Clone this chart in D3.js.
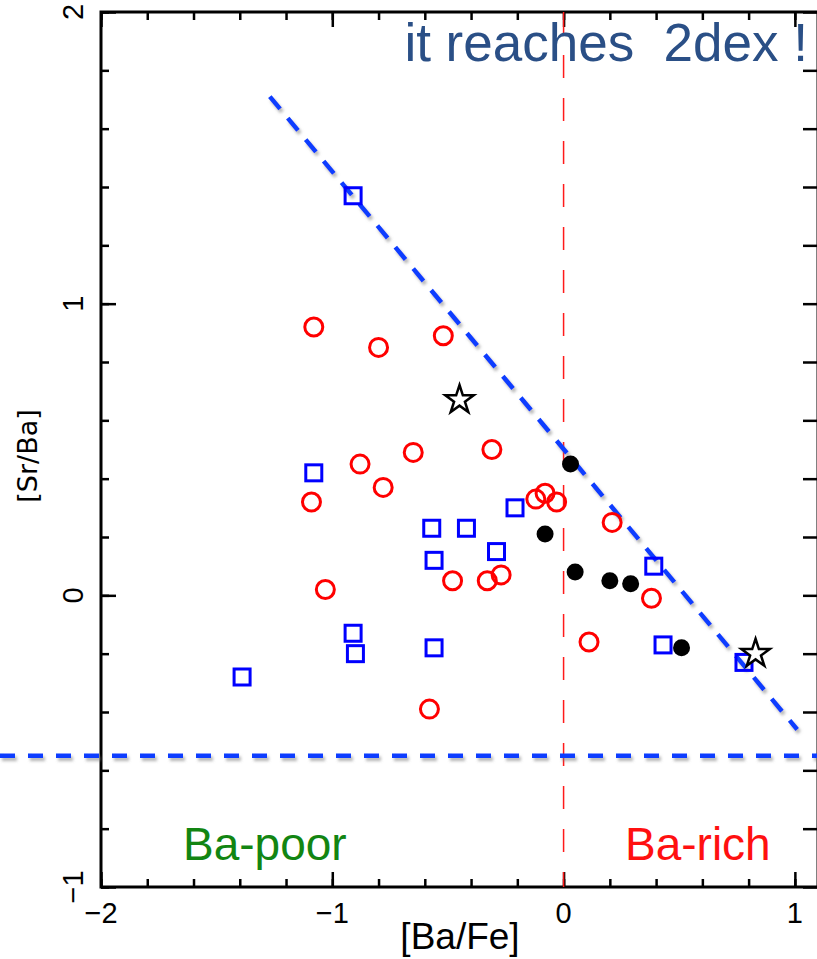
<!DOCTYPE html>
<html>
<head>
<meta charset="utf-8">
<script src="https://cdn.jsdelivr.net/npm/d3@7"></script>
<style>
  body { margin: 0; background: #fff; }
  svg { display: block; font-family: "Liberation Sans", Arial, sans-serif; }
</style>
</head>
<body>
<svg width="817" height="959"></svg>
<script>
// [Ba/Fe] , [Sr/Ba] pairs
var squares = [
  [-0.91, 1.37], [-1.08, 0.42], [-0.57, 0.23], [-0.42, 0.23], [-0.21, 0.30],
  [-0.56, 0.12], [-0.29, 0.15], [-0.91, -0.13], [-0.90, -0.20], [-0.56, -0.18],
  [-1.39, -0.28], [0.39, 0.10], [0.43, -0.17], [0.78, -0.23]
];
var openCircles = [
  [-1.08, 0.92], [-0.80, 0.85], [-0.52, 0.89], [-0.88, 0.45], [-0.65, 0.49],
  [-0.78, 0.37], [-0.31, 0.50], [-1.09, 0.32], [-0.12, 0.33], [-0.08, 0.35],
  [-0.03, 0.32], [0.21, 0.25], [-1.03, 0.02], [-0.48, 0.05], [-0.33, 0.05],
  [-0.27, 0.07], [0.38, -0.01], [0.11, -0.16], [-0.58, -0.39]
];
var filledDots = [
  [0.03, 0.45], [-0.08, 0.21], [0.05, 0.08], [0.20, 0.05], [0.29, 0.04], [0.51, -0.18]
];
var stars = [[-0.45, 0.67], [0.83, -0.20]];

var upperLimit = [[-1.27, 1.71], [1.01, -0.46]];
var lowerLimitY = -0.55;

var xMajor = [-2, -1, 0, 1];
var yMajor = [-1, 0, 1, 2];
var xMinor = d3.range(-2, 1.01, 0.2);
var yMinor = d3.range(-1, 2.01, 0.2);

var svg = d3.select("svg");
var W = +svg.attr("width");
var H = +svg.attr("height");

var x = d3.scaleLinear().domain([-2, 1.1]).range([101, 818]);
var y = d3.scaleLinear().domain([-1, 2]).range([887, 12]);
var fmt = d3.format("d");

// soft shadow under the dashed blue lines (user space so a flat line still works)
var defs = svg.append("defs");
var f = defs.append("filter").attr("id", "shadow")
  .attr("filterUnits", "userSpaceOnUse")
  .attr("x", 0).attr("y", 0).attr("width", W).attr("height", H);
f.append("feDropShadow").attr("dx", 2).attr("dy", 3).attr("stdDeviation", 1.8)
  .attr("flood-color", "#777").attr("flood-opacity", 0.55);

// frame
svg.append("rect")
  .attr("x", x(-2)).attr("y", y(2))
  .attr("width", x(1.1) - x(-2)).attr("height", y(-1) - y(2))
  .attr("fill", "none").attr("stroke", "#000").attr("stroke-width", 3);

function ticks(axis, vals, size, tr) {
  var g = svg.append("g").attr("transform", tr)
    .call(axis.tickValues(vals).tickSizeInner(size).tickSizeOuter(0).tickFormat(""));
  g.select(".domain").remove();
  g.selectAll("line").attr("stroke", "#000").attr("stroke-width", 2.5);
  return g;
}
ticks(d3.axisBottom(x), xMinor, -8, "translate(0," + y(-1) + ")");
ticks(d3.axisBottom(x), xMajor, -15, "translate(0," + y(-1) + ")");
ticks(d3.axisTop(x), xMinor, -8, "translate(0," + y(2) + ")");
ticks(d3.axisTop(x), xMajor, -15, "translate(0," + y(2) + ")");
ticks(d3.axisLeft(y), yMinor, -8, "translate(" + x(-2) + ",0)");
ticks(d3.axisLeft(y), yMajor, -15, "translate(" + x(-2) + ",0)");
ticks(d3.axisRight(y), yMinor, -15, "translate(" + x(1.1) + ",0)");

// tick labels
svg.append("g").selectAll("text").data(xMajor).join("text")
  .attr("x", function(d) { return x(d); })
  .attr("y", 923)
  .attr("text-anchor", "middle")
  .attr("font-size", 29)
  .text(fmt);
svg.append("g").selectAll("text").data(yMajor).join("text")
  .attr("transform", function(d) { return "translate(83," + y(d) + ") rotate(-90)"; })
  .attr("text-anchor", "middle")
  .attr("font-size", 29)
  .text(fmt);

// axis titles
svg.append("text").attr("x", 460).attr("y", 949)
  .attr("text-anchor", "middle").attr("font-size", 37).text("[Ba/Fe]");
svg.append("text")
  .attr("transform", "translate(37,456) rotate(-90)")
  .attr("text-anchor", "middle")
  .attr("font-family", "DejaVu Sans, sans-serif")
  .attr("font-size", 27).text("[Sr/Ba]");

// reference lines
svg.append("line")
  .attr("x1", x(0)).attr("x2", x(0)).attr("y1", y(2)).attr("y2", y(-1))
  .attr("stroke", "#ff1a1a").attr("stroke-width", 1.5).attr("stroke-dasharray", "23,20");

var line = d3.line().x(function(d) { return x(d[0]); }).y(function(d) { return y(d[1]); });
svg.append("path").datum(upperLimit).attr("d", line)
  .attr("fill", "none").attr("stroke", "#0a3cff").attr("stroke-width", 4.5)
  .attr("stroke-dasharray", "16,12").attr("filter", "url(#shadow)");
svg.append("line")
  .attr("x1", 0).attr("x2", W).attr("y1", y(lowerLimitY)).attr("y2", y(lowerLimitY))
  .attr("stroke", "#0a3cff").attr("stroke-width", 4.5)
  .attr("stroke-dasharray", "15,13").attr("filter", "url(#shadow)");

// points
svg.append("g").selectAll("rect").data(squares).join("rect")
  .attr("x", function(d) { return x(d[0]) - 8; })
  .attr("y", function(d) { return y(d[1]) - 8; })
  .attr("width", 16).attr("height", 16)
  .attr("fill", "none").attr("stroke", "#0000ff").attr("stroke-width", 3);

svg.append("g").selectAll("circle").data(openCircles).join("circle")
  .attr("cx", function(d) { return x(d[0]); })
  .attr("cy", function(d) { return y(d[1]); })
  .attr("r", 9)
  .attr("fill", "none").attr("stroke", "#ff0000").attr("stroke-width", 3);

svg.append("g").selectAll("circle").data(filledDots).join("circle")
  .attr("cx", function(d) { return x(d[0]); })
  .attr("cy", function(d) { return y(d[1]); })
  .attr("r", 8.5).attr("fill", "#000");

var star = d3.symbol().type(d3.symbolStar).size(250);
svg.append("g").selectAll("path").data(stars).join("path")
  .attr("transform", function(d) { return "translate(" + x(d[0]) + "," + y(d[1]) + ")"; })
  .attr("d", star)
  .attr("fill", "#fff").attr("stroke", "#000").attr("stroke-width", 2.5);

// annotations
svg.append("text").attr("x", 808).attr("y", 61).attr("text-anchor", "end")
  .attr("fill", "#2a4f86").attr("font-size", 53).attr("xml:space", "preserve")
  .text("it reaches  2dex !");
svg.append("text").attr("x", 183).attr("y", 860)
  .attr("fill", "#128512").attr("font-size", 46).text("Ba-poor");
svg.append("text").attr("x", 625).attr("y", 860)
  .attr("fill", "#ff1010").attr("font-size", 46).text("Ba-rich");
</script>
</body>
</html>
